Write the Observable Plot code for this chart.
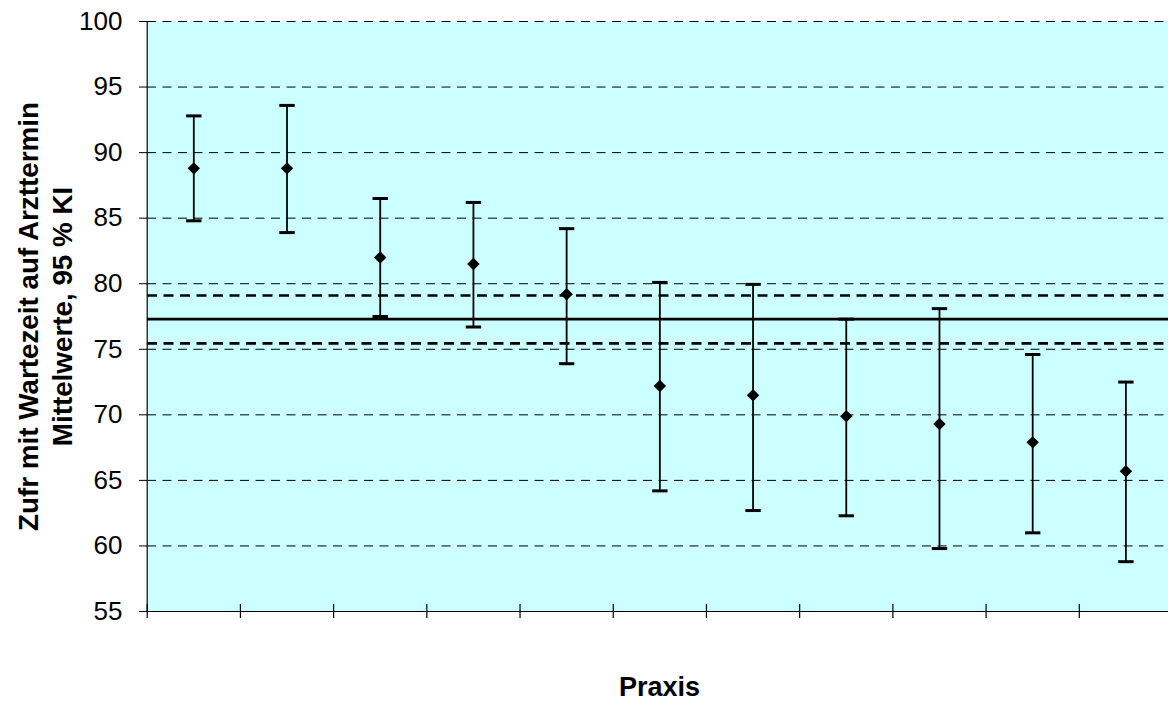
<!DOCTYPE html>
<html>
<head>
<meta charset="utf-8">
<script src="https://cdn.jsdelivr.net/npm/d3@7"></script>
<script src="https://cdn.jsdelivr.net/npm/@observablehq/plot@0.6"></script>
<style>
  html, body { margin: 0; padding: 0; background: #ffffff; overflow: hidden; }
</style>
</head>
<body>
<div id="chart"></div>
<script>
// Practices (categories) and their mean satisfaction with 95 % confidence interval
const praxis = [1, 2, 3, 4, 5, 6, 7, 8, 9, 10, 11];
const meanValues  = [88.8, 88.8, 82.0, 81.5, 79.2, 72.2, 71.5, 69.9, 69.3, 67.9, 65.7];
const upperValues = [92.8, 93.6, 86.5, 86.2, 84.2, 80.1, 79.95, 77.3, 78.1, 74.6, 72.5];
const lowerValues = [84.8, 83.9, 77.5, 76.7, 73.9, 64.2, 62.7, 62.3, 59.8, 61.0, 58.8];

// Overall mean across all practices with its confidence band
const overallMean = 77.3;
const overallUpper = 79.1;
const overallLower = 75.45;

// Axis ticks and titles
const yTicks = [55, 60, 65, 70, 75, 80, 85, 90, 95, 100];
const gridValues = [60, 65, 70, 75, 80, 85, 90, 95, 100];
const yTitleLines = ["Zufr mit Wartezeit auf Arzttermin", "Mittelwerte, 95 % KI"];
const xTitle = "Praxis";

const rows = praxis.map((p, i) => ({
  praxis: p,
  mean: meanValues[i],
  hi: upperValues[i],
  lo: lowerValues[i]
}));

// category boundaries for the tick marks between practices
const boundaries = praxis.map(p => p - 0.5);

// horizontal bar used as the whisker cap
const capSymbol = {
  draw(context) {
    context.rect(-7.7, -1.5, 15.4, 3);
  }
};

const chart = Plot.plot({
  width: 1168,
  height: 711,
  marginTop: 21,
  marginBottom: 100,
  marginLeft: 147,
  marginRight: 0,
  style: {
    fontFamily: "Arial, 'Liberation Sans', sans-serif",
    fontSize: "26px",
    color: "#000",
    background: "#fff"
  },
  x: { domain: [0.5, 11.5], range: [146.7, 1172], axis: null },
  y: { domain: [55, 100], axis: null },
  marks: [
    Plot.frame({ fill: "#ccffff", stroke: "none" }),
    // dashed horizontal gridlines
    Plot.ruleY(gridValues, { stroke: "#000", strokeWidth: 1, strokeDasharray: "9,6.5" }),
    // overall mean and its confidence limits
    Plot.ruleY([overallUpper, overallLower], { stroke: "#000", strokeWidth: 2.6, strokeDasharray: "10,6.5" }),
    Plot.ruleY([overallMean], { stroke: "#000", strokeWidth: 2.6 }),
    // axis lines
    Plot.ruleX([0.5], { stroke: "#000", strokeWidth: 1.2 }),
    Plot.ruleY([55], { stroke: "#000", strokeWidth: 1.2 }),
    // category ticks crossing the bottom axis
    Plot.ruleX(boundaries, { y1: 55, y2: 55, insetTop: -7, insetBottom: -7, stroke: "#000", strokeWidth: 1.2 }),
    Plot.axisY({
      ticks: yTicks,
      tickSize: 8,
      tickPadding: 17,
      fontSize: 26,
      label: null,
      stroke: "#000",
      fill: "#000"
    }),
    // confidence intervals
    Plot.ruleX(rows, { x: "praxis", y1: "lo", y2: "hi", stroke: "#000", strokeWidth: 1.8 }),
    Plot.dot(rows, { x: "praxis", y: "hi", symbol: capSymbol, fill: "#000", stroke: "none" }),
    Plot.dot(rows, { x: "praxis", y: "lo", symbol: capSymbol, fill: "#000", stroke: "none" }),
    // means
    Plot.dot(rows, { x: "praxis", y: "mean", symbol: "diamond2", r: 5.6, fill: "#000", stroke: "none" }),
    // axis titles
    Plot.text([yTitleLines[0]], {
      text: d => d, frameAnchor: "left", textAnchor: "middle", rotate: -90, dx: -118,
      fontSize: 27.8, fontWeight: "bold", fill: "#000"
    }),
    Plot.text([yTitleLines[1]], {
      text: d => d, frameAnchor: "left", textAnchor: "middle", rotate: -90, dx: -84,
      fontSize: 27.8, fontWeight: "bold", fill: "#000"
    }),
    Plot.text([xTitle], {
      text: d => d, frameAnchor: "bottom", dx: 1.5, dy: 84,
      fontSize: 27, fontWeight: "bold", fill: "#000"
    })
  ]
});

document.getElementById("chart").appendChild(chart);
</script>
</body>
</html>
